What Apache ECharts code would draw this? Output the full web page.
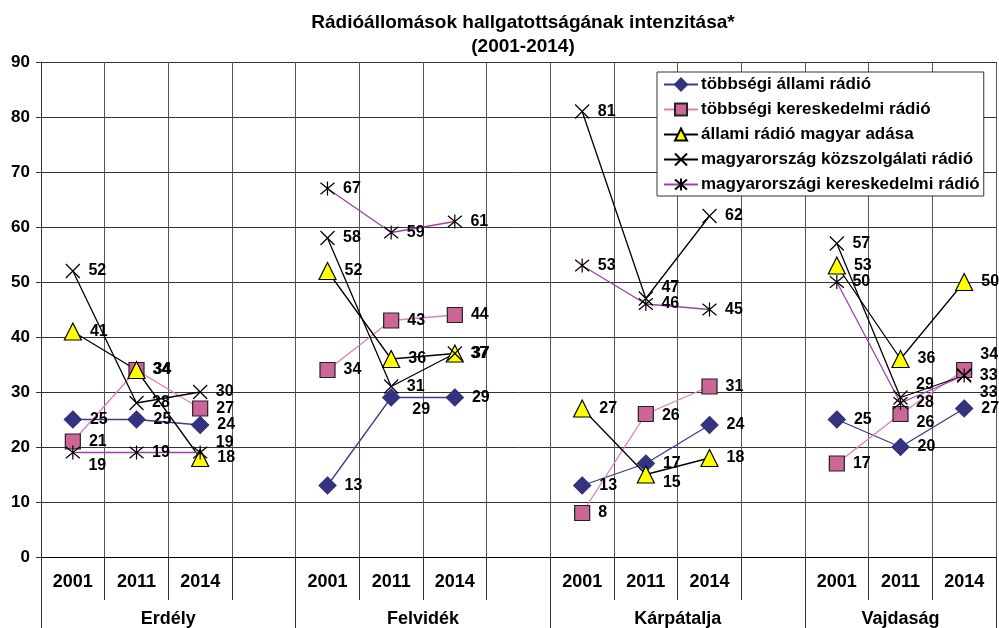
<!DOCTYPE html>
<html>
<head>
<meta charset="utf-8">
<script src="https://cdn.jsdelivr.net/npm/echarts@6/dist/echarts.min.js"></script>
<style>
  html, body { margin: 0; padding: 0; background: #fff; }
  #chart { width: 999px; height: 628px; }
</style>
</head>
<body>
<div id="chart"></div>
<script>
// régiók és évek
const regions = ['Erdély', 'Felvidék', 'Kárpátalja', 'Vajdaság']
const years = ['2001', '2011', '2014']
const yTicks = [0, 10, 20, 30, 40, 50, 60, 70, 80, 90]

// értékek régiónként (2001, 2011, 2014)
const tobbsegiAllami = [[25, 25, 24], [13, 29, 29], [13, 17, 24], [25, 20, 27]]
const tobbsegiKeresk = [[21, 34, 27], [34, 43, 44], [8, 26, 31], [17, 26, 34]]
const allamiMagyar = [[41, 34, 18], [52, 36, 37], [27, 15, 18], [53, 36, 50]]
const mkKozszolg = [[52, 28, 30], [58, 31, 37], [81, 47, 62], [57, 29, 33]]
const mkKeresk = [[19, 19, 19], [67, 59, 61], [53, 46, 45], [50, 28, 33]]

const seriesNames = [
  'többségi állami rádió',
  'többségi kereskedelmi rádió',
  'állami rádió magyar adása',
  'magyarország közszolgálati rádió',
  'magyarországi kereskedelmi rádió'
]

// feliratok eltolása ahol egymásra lógnának (sorozat-régió-év)
const labelShift = {
  '0-1-1': [4, 12],
  '1-2-1': [0, 2],
  '1-3-1': [0, 9],
  '1-3-2': [0, -15],
  '2-2-1': [0, 8],
  '3-2-1': [0, -11],
  '3-3-1': [0, -13],
  '4-0-0': [0, 13],
  '4-0-2': [0, -10],
  '4-3-2': [0, 17]
}

// kategóriák: évek, régiók között egy üres oszlop
let categories = []
let groupBounds = [0]
let groupCenters = []
regions.forEach((r, i) => {
  let start = categories.length
  categories = categories.concat(years)
  if (i < regions.length - 1) categories.push('')
  groupBounds.push(categories.length)
  groupCenters.push((start + categories.length) / 2)
})

function flatten (arr, si) {
  let out = []
  arr.forEach((g, ri) => {
    g.forEach((v, yi) => {
      let shift = labelShift[si + '-' + ri + '-' + yi]
      out.push(shift ? { value: v, label: { offset: shift } } : v)
    })
    if (ri < arr.length - 1) out.push(null)
  })
  return out
}

const font = "'Liberation Sans', Arial, sans-serif"
const xMark = 'path://M0,0L10,10M10,0L0,10'
const starMark = 'path://M0,0L10,10M10,0L0,10M5,-1L5,11'

function makeSeries (si, values, symbol, size, fill, border, line) {
  return {
    name: seriesNames[si],
    type: 'line',
    data: flatten(values, si),
    symbol: symbol,
    symbolSize: size,
    connectNulls: false,
    animation: false,
    itemStyle: { color: fill, borderColor: border, borderWidth: 1.2, opacity: 1 },
    lineStyle: { color: line, width: 1.3 },
    label: {
      show: true,
      position: 'right',
      distance: 8,
      color: '#000',
      fontFamily: font,
      fontWeight: 'bold',
      fontSize: 16
    },
    emphasis: { disabled: true }
  }
}

const regionLabel = {}
regions.forEach((r, i) => { regionLabel[groupCenters[i]] = r })

const option = {
  backgroundColor: '#fff',
  title: {
    text: 'Rádióállomások hallgatottságának intenzitása*\n(2001-2014)',
    left: 518,
    textAlign: 'center',
    top: 6,
    textStyle: {
      fontFamily: font,
      fontWeight: 'bold',
      fontSize: 19,
      lineHeight: 24,
      color: '#000'
    }
  },
  legend: {
    orient: 'vertical',
    left: 657,
    top: 72,
    padding: [4, 4, 3, 6],
    itemGap: 8,
    itemWidth: 34,
    itemHeight: 15,
    backgroundColor: '#fff',
    borderColor: '#333',
    borderWidth: 1,
    textStyle: { fontFamily: font, fontWeight: 'bold', fontSize: 17, color: '#000', padding: [0, 0, 0, -2] },
    data: seriesNames
  },
  grid: { left: 41, right: 3, top: 62, bottom: 71, containLabel: false },
  xAxis: [
    {
      type: 'category',
      data: categories,
      boundaryGap: true,
      axisLine: { lineStyle: { color: '#000', width: 1 } },
      axisTick: { show: true, interval: 0, length: 43, lineStyle: { color: '#333' } },
      axisLabel: { interval: 0, margin: 16, color: '#000', fontFamily: font, fontWeight: 'bold', fontSize: 18 },
      splitLine: { show: true, interval: 0, lineStyle: { color: '#555', width: 1 } }
    },
    {
      type: 'value',
      position: 'bottom',
      min: 0,
      max: categories.length,
      axisLine: { show: false },
      axisTick: { show: true, customValues: groupBounds, length: 71, lineStyle: { color: '#333' } },
      axisLabel: {
        customValues: groupCenters,
        margin: 53,
        color: '#000',
        fontFamily: font,
        fontWeight: 'bold',
        fontSize: 18,
        formatter: function (v) { return regionLabel[v] || '' }
      },
      splitLine: { show: false }
    }
  ],
  yAxis: {
    type: 'value',
    min: yTicks[0],
    max: yTicks[yTicks.length - 1],
    interval: 10,
    axisLine: { show: true, lineStyle: { color: '#333' } },
    axisTick: { show: true, length: 5, lineStyle: { color: '#333' } },
    axisLabel: { margin: 11, color: '#000', fontFamily: font, fontWeight: 'bold', fontSize: 17 },
    splitLine: { show: true, lineStyle: { color: '#333', width: 1 } }
  },
  series: [
    makeSeries(0, tobbsegiAllami, 'diamond', 17, '#333380', '#333380', '#3c3c8c'),
    makeSeries(1, tobbsegiKeresk, 'rect', 15, '#cc6699', '#222', '#e07cbf'),
    makeSeries(2, allamiMagyar, 'triangle', 17, '#ffff00', '#000', '#000'),
    makeSeries(3, mkKozszolg, xMark, 14, '#000', '#000', '#000'),
    makeSeries(4, mkKeresk, starMark, 14, '#000', '#000', '#a040a8')
  ]
}

echarts.init(document.getElementById('chart')).setOption(option)
</script>
</body>
</html>
